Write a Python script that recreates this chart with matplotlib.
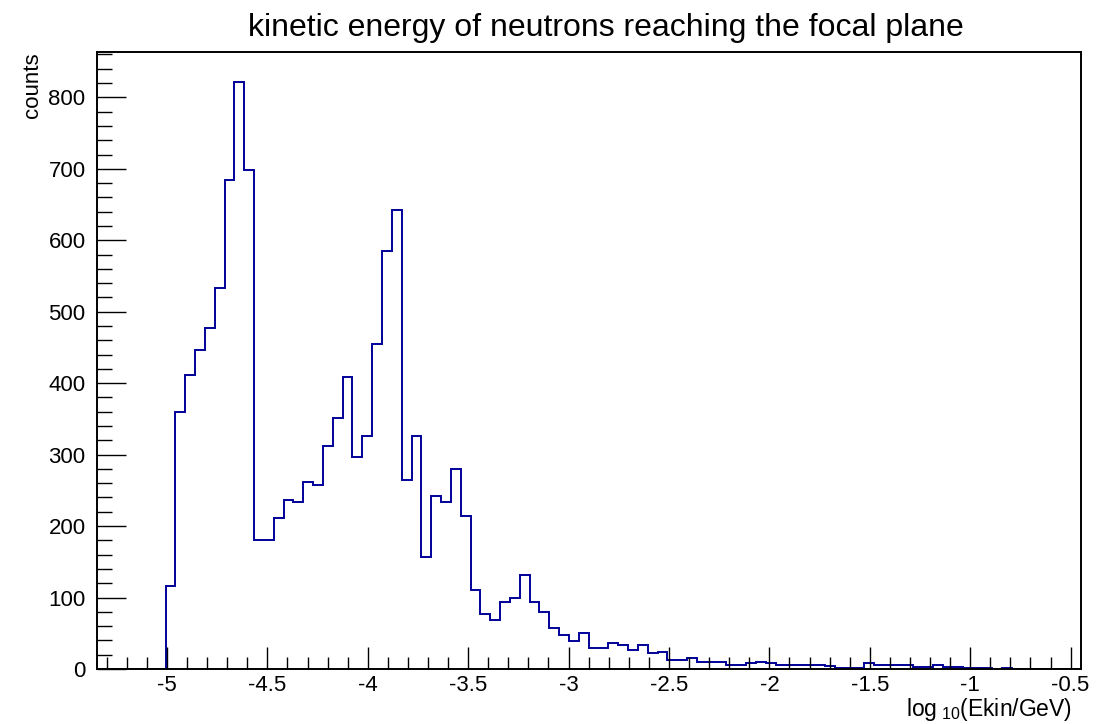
import numpy as np
import matplotlib.pyplot as plt
from matplotlib.ticker import MultipleLocator, FormatStrFormatter

# histogram: 100 bins on [-5.35, -0.45]
x_min, x_max, n_bins = -5.35, -0.45, 100
counts = [0, 0, 0, 0, 0, 0, 0,
          116, 360, 412, 446, 477, 533, 684, 822, 699, 180,
          180, 211, 237, 234, 262, 257, 312, 351, 408, 297,
          326, 455, 585, 643, 264, 326, 157, 242, 234, 280,
          214, 111, 77, 69, 94, 100, 131, 94, 80, 58,
          47, 39, 50, 30, 30, 36, 33, 27, 33, 22,
          24, 13, 13, 16, 10, 10, 10, 6, 6, 8,
          10, 8, 5, 5, 5, 5, 5, 4, 2, 2,
          2, 8, 6, 6, 6, 6, 3, 3, 6, 3,
          3, 1, 1, 1, 0, 1, 0, 0, 0, 0,
          0, 0, 0]
counts = np.array(counts)

title = "kinetic energy of neutrons reaching the focal plane"
xlabel = r"log$_{\ 10}$(Ekin/GeV)"
ylabel = "counts"

plt.rcParams['font.family'] = ['Liberation Sans', 'DejaVu Sans']
plt.rcParams['axes.unicode_minus'] = False
plt.rcParams['mathtext.fontset'] = 'custom'
plt.rcParams['mathtext.rm'] = 'Liberation Sans'
plt.rcParams['mathtext.it'] = 'Liberation Sans'

fig = plt.figure(figsize=(10.97, 7.24), dpi=100)
ax = fig.add_axes([0.0881, 0.076, 0.8970, 0.8518])

edges = np.linspace(x_min, x_max, n_bins + 1)
ax.stairs(counts, edges, color='#000099', linewidth=1.4)

ax.set_xlim(x_min, x_max)
ax.set_ylim(0, 1.05 * counts.max())

ax.xaxis.set_major_locator(MultipleLocator(0.5))
ax.xaxis.set_minor_locator(MultipleLocator(0.1))
ax.xaxis.set_major_formatter(FormatStrFormatter('%g'))
ax.yaxis.set_major_locator(MultipleLocator(100))
ax.yaxis.set_minor_locator(MultipleLocator(20))

ax.tick_params(axis='both', which='both', direction='in', top=False, right=False,
               width=1.0, labelsize=16)
ax.tick_params(axis='x', which='major', length=16, pad=4)
ax.tick_params(axis='x', which='minor', length=8.5)
ax.tick_params(axis='y', which='major', length=21, pad=8)
ax.tick_params(axis='y', which='minor', length=10.5)

for s in ax.spines.values():
    s.set_linewidth(1.4)

ax.set_title(title, fontsize=23, pad=12, x=0.518)
ax.set_xlabel(xlabel, fontsize=16.5)
ax.xaxis.set_label_coords(0.991, -0.044)
ax.xaxis.label.set_ha('right')
ax.xaxis.label.set_va('top')
ax.set_ylabel(ylabel, loc='top', fontsize=16, labelpad=4)

fig.savefig("out.png", dpi=100)
